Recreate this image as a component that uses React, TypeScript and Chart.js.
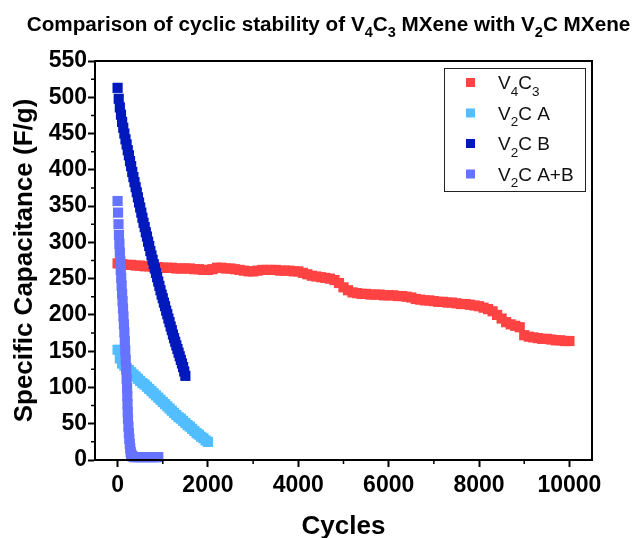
import React, { useEffect, useRef } from 'react';
import { Chart, registerables } from 'chart.js';

Chart.register(...registerables);

const FONT = '"Liberation Sans", Arial, Helvetica, sans-serif';

const chartTitle = 'Comparison of cyclic stability of V4C3 MXene with V2C MXene';
const xAxisTitle = 'Cycles';
const yAxisTitle = 'Specific Capacitance (F/g)';

const xTickValues = [0, 2000, 4000, 6000, 8000, 10000];
const xMinorTicks = [1000, 3000, 5000, 7000, 9000];
const yMinorTicks = [25, 75, 125, 175, 225, 275, 325, 375, 425, 475, 525];

const seriesLabels = ['V4C3', 'V2C A', 'V2C B', 'V2C A+B'];
const seriesColors = ['#FF4242', '#52BEFF', '#0019BC', '#6673FF'];

const v4c3Cycles = [
  0, 100, 200, 300, 400, 500, 600, 700, 800, 900,
  1000, 1100, 1200, 1300, 1400, 1500, 1600, 1700, 1800, 1900,
  2000, 2100, 2200, 2300, 2400, 2500, 2600, 2700, 2800, 2900,
  3000, 3100, 3200, 3300, 3400, 3500, 3600, 3700, 3800, 3900,
  4000, 4100, 4200, 4300, 4400, 4500, 4600, 4700, 4800, 4900,
  5000, 5100, 5200, 5300, 5400, 5500, 5600, 5700, 5800, 5900,
  6000, 6100, 6200, 6300, 6400, 6500, 6600, 6700, 6800, 6900,
  7000, 7100, 7200, 7300, 7400, 7500, 7600, 7700, 7800, 7900,
  8000, 8100, 8200, 8300, 8400, 8500, 8600, 8700, 8800, 8900,
  9000, 9100, 9200, 9300, 9400, 9500, 9600, 9700, 9800, 9900,
  10000,
];
const v4c3Capacitance = [
  271, 270, 269, 269, 268, 268, 267, 267, 266, 266,
  265, 265, 265, 264, 264, 264, 264, 263, 263, 262,
  262, 263, 265, 265, 264, 264, 263, 262, 261, 260,
  260, 261, 262, 262, 262, 262, 261, 261, 261, 260,
  260, 258, 256, 254, 253, 252, 251, 250, 248, 244,
  238, 234, 231, 230, 229, 229, 228, 228, 228, 227,
  227, 227, 226, 226, 225, 224, 222, 221, 220, 220,
  219, 218, 218, 217, 217, 216, 215, 215, 214, 213,
  212, 210, 208, 205, 200, 195, 190, 187, 185, 183,
  172, 170, 169, 168, 167, 167, 166, 165, 165, 164,
  164,
];

const v2cACycles = [
  0, 50, 100, 150, 200, 250, 300, 350, 400, 450, 500, 550, 600, 650, 700, 750, 800, 850,
  900, 950, 1000, 1050, 1100, 1150, 1200, 1250, 1300, 1350, 1400, 1450, 1500, 1550, 1600,
  1650, 1700, 1750, 1800, 1850, 1900, 1950, 2000,
];
const v2cACapacitance = [
  152, 140, 133, 130, 127, 124, 121, 118, 115, 112, 109, 106, 104, 101, 98, 95, 92, 89,
  86, 83, 80, 77, 74, 71, 68, 65, 62, 59, 57, 54, 51, 48, 46,
  43, 40, 37, 35, 32, 30, 27, 25,
];

const v2cBCycles = [
  0, 25, 50, 75, 100, 125, 150, 175, 200, 225, 250, 275, 300, 325, 350, 375, 400, 425, 450,
  475, 500, 525, 550, 575, 600, 625, 650, 675, 700, 725, 750, 775, 800, 825, 850, 875, 900,
  925, 950, 975, 1000, 1025, 1050, 1075, 1100, 1125, 1150, 1175, 1200, 1225, 1250, 1275,
  1300, 1325, 1350, 1375, 1400, 1425, 1450, 1475, 1500,
];
const v2cBCapacitance = [
  513, 498, 486, 476, 466, 458, 450, 442, 435, 427, 420, 412, 405, 397, 390, 383, 376, 369, 362,
  355, 348, 341, 334, 327, 321, 314, 308, 301, 295, 288, 282, 276, 270, 264, 258, 252, 246,
  240, 234, 228, 223, 217, 212, 206, 201, 195, 190, 184, 179, 173, 168, 163,
  158, 153, 148, 143, 138, 133, 128, 122, 116,
];

const v2cABCycles = [
  0, 10, 20, 30, 40, 50, 60, 70, 80, 90, 100, 110, 120, 130, 140, 150, 160, 170, 180, 190,
  200, 210, 215, 220, 225, 230, 240, 250, 260, 270, 280, 290, 300, 315, 330, 360, 400, 450,
  500, 550, 600, 650, 700, 750, 800, 850, 900,
];
const v2cABCapacitance = [
  357, 341, 325, 310, 298, 286, 274, 262, 251, 240, 229, 219, 209, 198, 187, 176, 164, 151,
  138, 125, 112, 99, 88, 77, 66, 57, 46, 37, 29, 22, 16, 11, 8, 6, 5, 4, 4, 4,
  4, 4, 4, 4, 4, 4, 4, 4, 4,
];

type Part = { text: string; sub: boolean };

function formulaParts(s: string): Part[] {
  const parts: Part[] = [];
  let prevAlphaOrSub = false;
  for (const ch of s) {
    const isDigit = ch >= '0' && ch <= '9';
    const isAlpha = /[A-Za-z]/.test(ch);
    const sub = isDigit && prevAlphaOrSub;
    const last = parts[parts.length - 1];
    if (last && last.sub === sub) last.text += ch;
    else parts.push({ text: ch, sub });
    prevAlphaOrSub = isAlpha || sub;
  }
  return parts;
}

function drawRich(
  ctx: CanvasRenderingContext2D,
  text: string,
  x: number,
  y: number,
  size: number,
  subSize: number,
  subShift: number,
  weight: string,
  draw: boolean
): number {
  const parts = formulaParts(text);
  let cx = x;
  ctx.textBaseline = 'alphabetic';
  ctx.textAlign = 'left';
  for (const p of parts) {
    ctx.font = `${weight} ${p.sub ? subSize : size}px ${FONT}`;
    if (draw) ctx.fillText(p.text, cx, p.sub ? y + subShift : y);
    cx += ctx.measureText(p.text).width;
  }
  return cx - x;
}

const decorPlugin = {
  id: 'decor',
  afterDatasetsDraw(chart: any) {
    const { ctx, chartArea } = chart;
    const { left, right, top, bottom } = chartArea;
    const xs = chart.scales.x;
    const ys = chart.scales.y;
    ctx.save();
    ctx.strokeStyle = '#000';
    ctx.lineWidth = 2;
    ctx.strokeRect(left, top, right - left, bottom - top);
    ctx.lineWidth = 1.5;
    ctx.beginPath();
    for (const v of xMinorTicks) {
      const px = xs.getPixelForValue(v);
      ctx.moveTo(px, bottom);
      ctx.lineTo(px, bottom + 4);
    }
    for (const v of yMinorTicks) {
      const py = ys.getPixelForValue(v);
      ctx.moveTo(left, py);
      ctx.lineTo(left - 4, py);
    }
    ctx.stroke();

    // legend
    const boxX = 444, boxY = 68, boxW = 141, boxH = 123;
    ctx.fillStyle = '#fff';
    ctx.fillRect(boxX, boxY, boxW, boxH);
    ctx.lineWidth = 1;
    ctx.strokeStyle = '#222';
    ctx.strokeRect(boxX + 0.5, boxY + 0.5, boxW, boxH);
    chart.data.datasets.forEach((ds: any, i: number) => {
      const cy = 82.5 + i * 30.5;
      ctx.fillStyle = ds.pointBackgroundColor;
      ctx.fillRect(466, cy - 4.5, 9, 9);
      ctx.fillStyle = '#111';
      drawRich(ctx, ds.label, 498, cy + 6.5, 19, 13.5, 6.5, 'normal', true);
    });

    // title
    ctx.fillStyle = '#000';
    const w = drawRich(ctx, chartTitle, 0, 0, 20.7, 14.5, 5.5, 'bold', false);
    drawRich(ctx, chartTitle, 328.5 - w / 2, 31, 20.7, 14.5, 5.5, 'bold', true);
    ctx.restore();
  },
};

function makeData(xs: number[], ys: number[]) {
  return xs.map((x, i) => ({ x, y: ys[i] }));
}

export default function App() {
  const canvasRef = useRef<HTMLCanvasElement | null>(null);

  useEffect(() => {
    if (!canvasRef.current) return;
    const seriesX = [v4c3Cycles, v2cACycles, v2cBCycles, v2cABCycles];
    const seriesY = [v4c3Capacitance, v2cACapacitance, v2cBCapacitance, v2cABCapacitance];
    const orders = [3, 2, 1, 0];
    const tickFont = { family: FONT, size: 23, weight: 'bold' as const };
    const chart = new Chart(canvasRef.current, {
      type: 'scatter',
      data: {
        datasets: seriesLabels.map((label, i) => ({
          label,
          data: makeData(seriesX[i], seriesY[i]),
          showLine: false,
          pointStyle: 'rect',
          pointRadius: 7.2,
          pointHoverRadius: 7.2,
          pointBorderWidth: 0,
          pointBackgroundColor: seriesColors[i],
          backgroundColor: seriesColors[i],
          borderColor: seriesColors[i],
          order: orders[i],
          clip: false as any,
        })),
      },
      options: {
        responsive: false,
        animation: false,
        devicePixelRatio: 1,
        events: [],
        layout: { padding: { top: 61, right: 41, left: 0, bottom: 0 } },
        plugins: {
          legend: { display: false },
          title: { display: false },
          tooltip: { enabled: false },
        },
        scales: {
          x: {
            type: 'linear',
            min: -500,
            max: 10500,
            afterBuildTicks: (s: any) => {
              s.ticks = xTickValues.map((v) => ({ value: v }));
            },
            afterFit: (s: any) => {
              s.height = 78;
            },
            ticks: {
              font: tickFont,
              color: '#000',
              padding: 5,
              maxRotation: 0,
              autoSkip: false,
              callback: (v: any) => String(v),
            },
            grid: {
              drawOnChartArea: false,
              drawTicks: true,
              tickLength: 7,
              tickWidth: 2,
              tickColor: '#000',
            },
            border: { display: true, color: '#000', width: 2 },
            title: {
              display: true,
              text: xAxisTitle,
              color: '#000',
              font: { family: FONT, size: 26, weight: 'bold', lineHeight: 1 },
              padding: { top: 0, bottom: -1.5 },
            },
          },
          y: {
            type: 'linear',
            min: 0,
            max: 550,
            afterFit: (s: any) => {
              s.width = 95;
            },
            ticks: {
              stepSize: 50,
              font: tickFont,
              color: '#000',
              padding: 1,
              callback: (v: any) => String(v),
            },
            grid: {
              drawOnChartArea: false,
              drawTicks: true,
              tickLength: 7,
              tickWidth: 2,
              tickColor: '#000',
            },
            border: { display: true, color: '#000', width: 2 },
            title: {
              display: true,
              text: yAxisTitle,
              color: '#000',
              font: { family: FONT, size: 26, weight: 'bold', lineHeight: 1.2 },
              padding: { top: 9.4, bottom: 0 },
            },
          },
        },
      },
      plugins: [decorPlugin],
    });
    return () => chart.destroy();
  }, []);

  return (
    <div style={{ position: 'absolute', left: 0, top: 0, width: 633, height: 538, background: '#fff' }}>
      <canvas ref={canvasRef} width={633} height={538} style={{ display: 'block' }} />
    </div>
  );
}
